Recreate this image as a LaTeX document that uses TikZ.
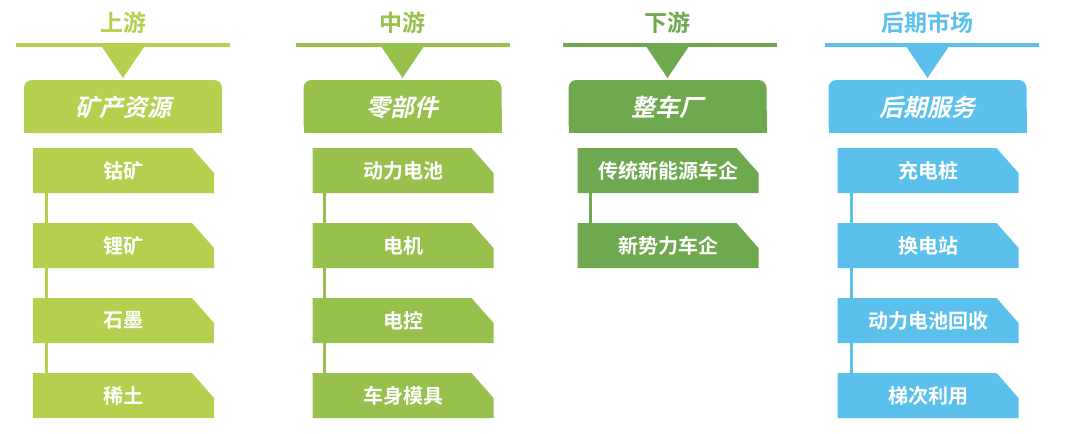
\documentclass[tikz,border=0pt]{standalone}
\usepackage{fontspec}
\newfontfamily\cjk{Noto Sans CJK SC Bold}
\newfontfamily\cjkit{Noto Sans CJK SC Bold}[FakeSlant=0.22]
\definecolor{cA}{HTML}{B5CF4F}
\definecolor{cB}{HTML}{98C04D}
\definecolor{cC}{HTML}{6EA84F}
\definecolor{cD}{HTML}{5BC0EB}
\tikzset{
  titletxt/.style={font=\cjk\fontsize{23}{25}\selectfont, inner sep=0pt},
  headtxt/.style={font=\cjkit\fontsize{24}{26}\selectfont, text=white, inner sep=0pt},
  itemtxt/.style={font=\cjk\fontsize{20}{22}\selectfont, text=white, inner sep=0pt,
    minimum width=181pt, minimum height=45pt},
  conn/.style={line width=3pt}
}
% #1 prefix, #2 center, #3 colour, #4 title, #5 header, #6 line centre
\newcommand\colhead[6]{%
  \node[titletxt, text=#3] (#1t) at (#2,23) {#4};
  \fill[#3] (#6-107,43) rectangle (#6+107,47);
  \fill[#3] (#2-21,47) -- (#2+21,47) -- (#2,78) -- cycle;
  \fill[#3, rounded corners=8pt] (#2-99,80) rectangle (#2+99,133);
  \fill[#3] (#2-99,110) rectangle (#2+99,133);
  \node[headtxt] (#1h) at (#2,107) {#5};
}
\newcommand\cbox[5]{%
  \fill[#4] (#2-90,#3) -- (#2+69,#3) -- (#2+91,#3+25) -- (#2+91,#3+45) -- (#2-90,#3+45) -- cycle;
  \node[itemtxt] (#1) at (#2+0.5,#3+22.5) {#5};
}
\begin{document}
\begin{tikzpicture}[x=1pt,y=-1pt]
\useasboundingbox (0,0) rectangle (1080,434);
% column 1
\colhead{a}{123}{cA}{上游}{矿产资源}{123}
\cbox{a1}{123}{148}{cA}{钴矿}
\cbox{a2}{123}{223}{cA}{锂矿}
\cbox{a3}{123}{298}{cA}{石墨}
\cbox{a4}{123}{373}{cA}{稀土}
\draw[conn,cA] ([xshift=14pt]a1.south west) -- ([xshift=14pt]a2.north west);
\draw[conn,cA] ([xshift=14pt]a2.south west) -- ([xshift=14pt]a3.north west);
\draw[conn,cA] ([xshift=14pt]a3.south west) -- ([xshift=14pt]a4.north west);
% column 2
\colhead{b}{402.5}{cB}{中游}{零部件}{403}
\cbox{b1}{402.5}{148}{cB}{动力电池}
\cbox{b2}{402.5}{223}{cB}{电机}
\cbox{b3}{402.5}{298}{cB}{电控}
\cbox{b4}{402.5}{373}{cB}{车身模具}
\draw[conn,cB] ([xshift=12pt]b1.south west) -- ([xshift=12pt]b2.north west);
\draw[conn,cB] ([xshift=12pt]b2.south west) -- ([xshift=12pt]b3.north west);
\draw[conn,cB] ([xshift=12pt]b3.south west) -- ([xshift=12pt]b4.north west);
% column 3
\colhead{c}{667.5}{cC}{下游}{整车厂}{670}
\cbox{c1}{667.5}{148}{cC}{传统新能源车企}
\cbox{c2}{667.5}{223}{cC}{新势力车企}
\draw[conn,cC] ([xshift=13pt]c1.south west) -- ([xshift=13pt]c2.north west);
% column 4
\colhead{d}{927.5}{cD}{后期市场}{后期服务}{932}
\cbox{d1}{927.5}{148}{cD}{充电桩}
\cbox{d2}{927.5}{223}{cD}{换电站}
\cbox{d3}{927.5}{298}{cD}{动力电池回收}
\cbox{d4}{927.5}{373}{cD}{梯次利用}
\draw[conn,cD] ([xshift=14pt]d1.south west) -- ([xshift=14pt]d2.north west);
\draw[conn,cD] ([xshift=14pt]d2.south west) -- ([xshift=14pt]d3.north west);
\draw[conn,cD] ([xshift=14pt]d3.south west) -- ([xshift=14pt]d4.north west);
\end{tikzpicture}
\end{document}
